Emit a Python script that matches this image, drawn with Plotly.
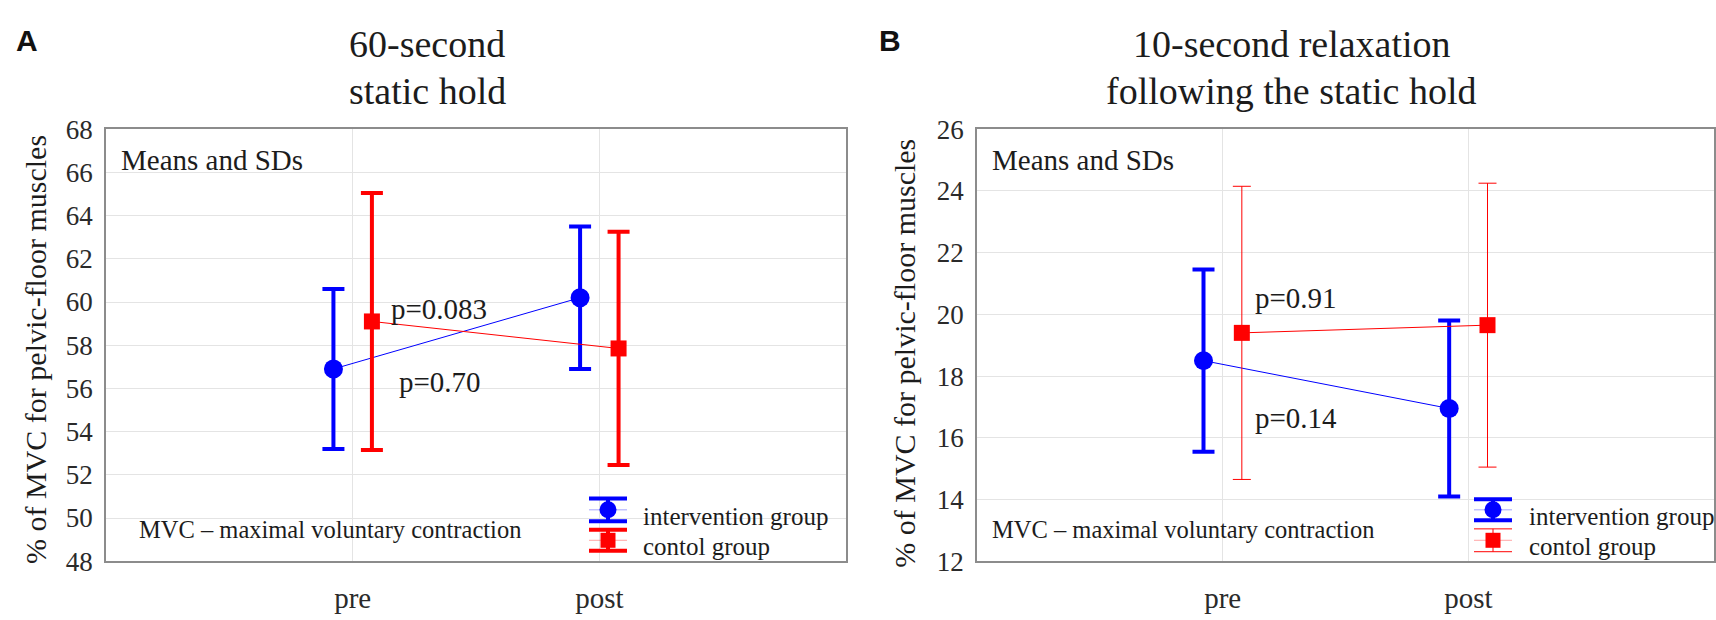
import plotly.graph_objects as go

# ---- data -------------------------------------------------------------
phases = ["pre", "post"]

hold_int_mean = [56.9, 60.2]
hold_int_sd = [3.7, 3.3]
hold_ctl_mean = [59.1, 57.85]
hold_ctl_sd = [5.95, 5.4]

relax_int_mean = [18.5, 16.95]
relax_int_sd = [2.95, 2.85]
relax_ctl_mean = [19.4, 19.65]
relax_ctl_sd = [4.75, 4.6]

hold_ticks = list(range(48, 70, 2))
relax_ticks = list(range(12, 28, 2))

p_hold = ["p=0.083", "p=0.70"]
p_relax = ["p=0.91", "p=0.14"]

# ---- layout constants (pixels) ---------------------------------------
W, H = 1716, 620
BLUE = "#0000ff"
RED = "#ff0000"
TXT = "#1c1c1c"
SERIF = "Liberation Serif"
OFF = 0.078  # horizontal shift of the two groups around each phase


def px_x(v):
    return v / W


def px_y(v):
    return 1 - v / H


xpos = [1, 2]
fig = go.Figure()


def add_group(xa, ya, mean, sd, color, symbol, msize, shift, thick, cap):
    fig.add_trace(go.Scatter(
        x=[p + shift for p in xpos], y=mean,
        mode="lines+markers",
        line=dict(color=color, width=1),
        marker=dict(color=color, symbol=symbol, size=msize, line=dict(width=0)),
        error_y=dict(type="data", array=sd, visible=True, color=color,
                     thickness=thick, width=cap),
        xaxis=xa, yaxis=ya, showlegend=False, hoverinfo="skip",
    ))


# panel A: 60-second static hold
add_group("x", "y", hold_int_mean, hold_int_sd, BLUE, "circle", 19, -OFF, 4, 11)
add_group("x", "y", hold_ctl_mean, hold_ctl_sd, RED, "square", 16, OFF, 4, 11)
# panel B: relaxation
add_group("x2", "y2", relax_int_mean, relax_int_sd, BLUE, "circle", 19, -OFF, 4, 11)
add_group("x2", "y2", relax_ctl_mean, relax_ctl_sd, RED, "square", 16, OFF, 1, 9)

# ---- hand-built legends on a transparent pixel overlay axis ------------
def legend_swatch(cx, cy, color, symbol, msize, thick, cap, half):
    fig.add_trace(go.Scatter(
        x=[cx - cap, cx + cap], y=[cy, cy], mode="lines",
        line=dict(color=color, width=1), opacity=0.35,
        xaxis="x3", yaxis="y3", showlegend=False, hoverinfo="skip"))
    fig.add_trace(go.Scatter(
        x=[cx], y=[cy], mode="markers",
        marker=dict(color=color, symbol=symbol, size=msize, line=dict(width=0)),
        error_y=dict(type="data", array=[half], visible=True, color=color,
                     thickness=thick, width=cap),
        xaxis="x3", yaxis="y3", showlegend=False, hoverinfo="skip"))


legend_swatch(608, 520, BLUE, "circle", 17, 4, 19, 12)
legend_swatch(608, 552, RED, "square", 15, 4, 19, 11)
legend_swatch(1493, 520, BLUE, "circle", 17, 4, 19, 11)
legend_swatch(1493, 552, RED, "square", 15, 1, 19, 12)

# ---- axes --------------------------------------------------------------
ydom = [px_y(574), px_y(120)]
axis_common = dict(showline=True, linecolor="#8c8c8c", linewidth=1.5,
                   mirror=True, showgrid=True, gridcolor="#e4e4e4",
                   gridwidth=1, zeroline=False, ticks="")
ytick_font = dict(family=SERIF, size=27, color="#2a2a2a")
xtick_font = dict(family=SERIF, size=29, color="#2a2a2a")

fig.update_layout(
    width=W, height=H,
    margin=dict(l=0, r=0, t=0, b=0),
    paper_bgcolor="white", plot_bgcolor="rgba(0,0,0,0)",
    xaxis=dict(domain=[px_x(106), px_x(846)], range=[0, 3],
               tickvals=xpos, ticktext=phases, anchor="y",
               tickfont=xtick_font, ticklabelstandoff=10, **axis_common),
    yaxis=dict(domain=ydom, range=[48, 68], tickvals=hold_ticks,
               anchor="x", tickfont=ytick_font, ticklabelstandoff=6,
               **axis_common),
    xaxis2=dict(domain=[px_x(977), px_x(1714)], range=[0, 3],
                tickvals=xpos, ticktext=phases, anchor="y2",
                tickfont=xtick_font, ticklabelstandoff=10, **axis_common),
    yaxis2=dict(domain=ydom, range=[12, 26], tickvals=relax_ticks,
                anchor="x2", tickfont=ytick_font, ticklabelstandoff=6,
                **axis_common),
    xaxis3=dict(domain=[0, 1], range=[0, W], visible=False, anchor="y3",
                fixedrange=True, showgrid=False),
    yaxis3=dict(domain=[0, 1], range=[H, 0], visible=False, anchor="x3",
                fixedrange=True, showgrid=False),
)


def label(text, x, y, size, xanchor="left", bold=False, family=SERIF,
          angle=0, color=TXT):
    fig.add_annotation(
        text=f"<b>{text}</b>" if bold else text,
        x=px_x(x), y=px_y(y), xref="paper", yref="paper",
        xanchor=xanchor, yanchor="middle", showarrow=False, textangle=angle,
        font=dict(family=family, size=size, color=color))


# panel letters
label("A", 14, 27, 30, bold=True, family="Liberation Sans", color="#111")
label("B", 877, 27, 30, bold=True, family="Liberation Sans", color="#111")

# titles
label("60-second", 427, 30, 38, xanchor="center")
label("static hold", 427, 80, 38, xanchor="center")
label("10-second relaxation", 1292, 30, 38, xanchor="center")
label("following the static hold", 1291, 80, 38, xanchor="center")

# y-axis titles
label("% of MVC for pelvic-floor muscles", 36, 352, 30,
      xanchor="center", angle=-90)
label("% of MVC for pelvic-floor muscles", 905, 356, 30,
      xanchor="center", angle=-90)

# in-plot notes
label("Means and SDs", 119, 152, 29)
label("Means and SDs", 990, 152, 29)
label("MVC – maximal voluntary contraction", 137, 541, 24.5)
label("MVC – maximal voluntary contraction", 990, 541, 24.5)

# p-values
label(p_hold[0], 389, 309, 29)
label(p_hold[1], 397, 386, 29)
label(p_relax[0], 1253, 297, 29)
label(p_relax[1], 1253, 423, 29)

# legend texts
label("intervention group", 641, 527, 25)
label("contol group", 641, 559, 25)
label("intervention group", 1527, 527, 25)
label("contol group", 1527, 559, 25)

fig.write_html("out.html")
